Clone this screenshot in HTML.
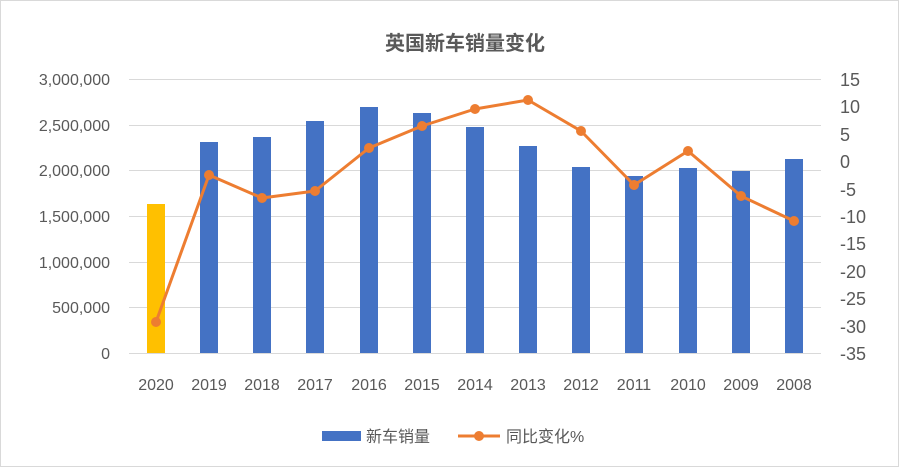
<!DOCTYPE html>
<html><head><meta charset="utf-8"><style>
html,body{margin:0;padding:0;background:#fff;}
svg{display:block;font-family:"Liberation Sans","Noto Sans CJK SC",sans-serif;}
</style></head><body>
<svg width="905" height="474" viewBox="0 0 905 474" xmlns="http://www.w3.org/2000/svg">
<rect x="0.5" y="0.5" width="898" height="466" fill="#fff" stroke="#d9d9d9"/>
<text x="465" y="50" text-anchor="middle" font-size="20" font-weight="bold" fill="#595959">英国新车销量变化</text>
<g stroke="#d9d9d9" stroke-width="1">
<line x1="129" x2="821" y1="79.5" y2="79.5"/>
<line x1="129" x2="821" y1="125.5" y2="125.5"/>
<line x1="129" x2="821" y1="170.5" y2="170.5"/>
<line x1="129" x2="821" y1="216.5" y2="216.5"/>
<line x1="129" x2="821" y1="262.5" y2="262.5"/>
<line x1="129" x2="821" y1="307.5" y2="307.5"/>
<line x1="129" x2="821" y1="353.5" y2="353.5"/>
</g>
<g font-size="16" fill="#595959" text-anchor="end">
<text x="110" y="85">3,000,000</text>
<text x="110" y="131">2,500,000</text>
<text x="110" y="176">2,000,000</text>
<text x="110" y="222">1,500,000</text>
<text x="110" y="268">1,000,000</text>
<text x="110" y="313">500,000</text>
<text x="110" y="359">0</text>
</g>
<g font-size="18" fill="#595959" text-anchor="start">
<text x="840" y="86">15</text>
<text x="840" y="113">10</text>
<text x="840" y="141">5</text>
<text x="840" y="168">0</text>
<text x="840" y="196">-5</text>
<text x="840" y="223">-10</text>
<text x="840" y="250">-15</text>
<text x="840" y="278">-20</text>
<text x="840" y="305">-25</text>
<text x="840" y="333">-30</text>
<text x="840" y="360">-35</text>
</g>
<g fill="#4472c4">
<rect x="147" y="204" width="18" height="149" fill="#ffc000"/>
<rect x="200" y="142" width="18" height="211"/>
<rect x="253" y="137" width="18" height="216"/>
<rect x="306" y="121" width="18" height="232"/>
<rect x="360" y="107" width="18" height="246"/>
<rect x="413" y="113" width="18" height="240"/>
<rect x="466" y="127" width="18" height="226"/>
<rect x="519" y="146" width="18" height="207"/>
<rect x="572" y="167" width="18" height="186"/>
<rect x="625" y="176" width="18" height="177"/>
<rect x="679" y="168" width="18" height="185"/>
<rect x="732" y="171" width="18" height="182"/>
<rect x="785" y="159" width="18" height="194"/>
</g>
<polyline fill="none" stroke="#ed7d31" stroke-width="3" stroke-linejoin="round" points="156,322 209,175 262,198 315,191 369,148 422,126 475,109 528,100 581,131 634,185 688,151 741,196 794,221"/>
<g fill="#ed7d31">
<circle cx="156" cy="322" r="5"/><circle cx="209" cy="175" r="5"/><circle cx="262" cy="198" r="5"/><circle cx="315" cy="191" r="5"/><circle cx="369" cy="148" r="5"/><circle cx="422" cy="126" r="5"/><circle cx="475" cy="109" r="5"/><circle cx="528" cy="100" r="5"/><circle cx="581" cy="131" r="5"/><circle cx="634" cy="185" r="5"/><circle cx="688" cy="151" r="5"/><circle cx="741" cy="196" r="5"/><circle cx="794" cy="221" r="5"/>
</g>
<g font-size="16" fill="#595959" text-anchor="middle">
<text x="156" y="390">2020</text><text x="209" y="390">2019</text><text x="262" y="390">2018</text><text x="315" y="390">2017</text><text x="369" y="390">2016</text><text x="422" y="390">2015</text><text x="475" y="390">2014</text><text x="528" y="390">2013</text><text x="581" y="390">2012</text><text x="634" y="390">2011</text><text x="688" y="390">2010</text><text x="741" y="390">2009</text><text x="794" y="390">2008</text>
</g>
<rect x="322" y="431" width="39" height="10" fill="#4472c4"/>
<text x="366" y="442" font-size="16" fill="#595959">新车销量</text>
<line x1="458" x2="500" y1="436" y2="436" stroke="#ed7d31" stroke-width="3"/>
<circle cx="479" cy="436" r="5" fill="#ed7d31"/>
<text x="506" y="442" font-size="16" fill="#595959">同比变化%</text>
</svg>
</body></html>
